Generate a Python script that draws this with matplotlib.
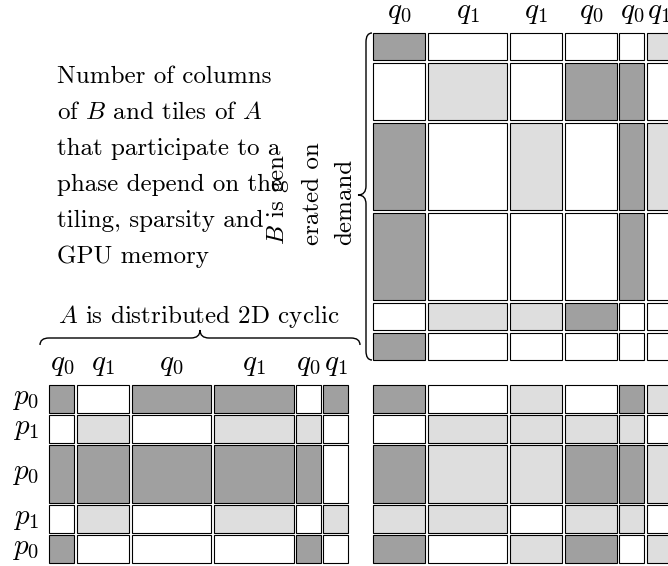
import numpy as np
import matplotlib
matplotlib.use("Agg")
import matplotlib.pyplot as plt
from matplotlib.patches import Rectangle, PathPatch
from matplotlib.path import Path

plt.rcParams['font.family'] = ['cmr10', 'DejaVu Serif']
plt.rcParams['mathtext.fontset'] = 'cm'
plt.rcParams['axes.unicode_minus'] = False

# tile structure (relative sizes) and fill of every tile
# D = owned/dark, L = light, W = empty
a_cols = [1, 2, 3, 3, 1, 1]
ac_rows = [1, 1, 2, 1, 1]
b_rows = [1, 2, 3, 3, 1, 1]
bc_cols = [2, 3, 2, 2, 1, 1]

a_cols_lbl = ['q_0', 'q_1', 'q_0', 'q_1', 'q_0', 'q_1']
b_cols_lbl = ['q_0', 'q_1', 'q_1', 'q_0', 'q_0', 'q_1']
a_rows_lbl = ['p_0', 'p_1', 'p_0', 'p_1', 'p_0']

A = ["DWDDWD",
     "WLWLLW",
     "DDDDDW",
     "WLWLWL",
     "DWWWDW"]
B = ["DWWWWL",
     "WLWDDW",
     "DWLWDL",
     "DWWWDW",
     "WLLDWW",
     "DWWWWW"]
C = ["DWLWDL",
     "WLLLLW",
     "DLLDDL",
     "LLWLLW",
     "DWLDWL"]

colors = {'D': '#a0a0a0', 'L': '#dedede', 'W': 'white'}
ux = 27.4   # px per column unit
uy = 30.0   # px per row unit
gap = 2.4
fs = 18
fs_lbl = 21


def draw_grid(ax, x0, y0, cols, rows, fills):
    xs = x0 + np.concatenate([[0], np.cumsum(cols)]) * ux
    ys = y0 + np.concatenate([[0], np.cumsum(rows)]) * uy
    for i in range(len(rows)):
        for j in range(len(cols)):
            ax.add_patch(Rectangle((xs[j], ys[i]), xs[j+1] - xs[j] - gap,
                                   ys[i+1] - ys[i] - gap,
                                   facecolor=colors[fills[i][j]],
                                   edgecolor='black', lw=0.8))
    return xs, ys


def hbrace(ax, x1, x2, y_end, y_line, y_tip, r=9):
    xm = (x1 + x2) / 2
    verts = [(x1, y_end), (x1, y_line), (x1 + r, y_line),
             (xm - r, y_line), (xm, y_line), (xm, y_tip),
             (xm, y_line), (xm + r, y_line),
             (x2 - r, y_line), (x2, y_line), (x2, y_end)]
    codes = [Path.MOVETO, Path.CURVE3, Path.CURVE3,
             Path.LINETO, Path.CURVE3, Path.CURVE3,
             Path.CURVE3, Path.CURVE3,
             Path.LINETO, Path.CURVE3, Path.CURVE3]
    ax.add_patch(PathPatch(Path(verts, codes), fc='none', ec='black', lw=1.0))


def vbrace(ax, y1, y2, x_end, x_line, x_tip, ym, r=9):
    verts = [(x_end, y1), (x_line, y1), (x_line, y1 + r),
             (x_line, ym - r), (x_line, ym), (x_tip, ym),
             (x_line, ym), (x_line, ym + r),
             (x_line, y2 - r), (x_line, y2), (x_end, y2)]
    codes = [Path.MOVETO, Path.CURVE3, Path.CURVE3,
             Path.LINETO, Path.CURVE3, Path.CURVE3,
             Path.CURVE3, Path.CURVE3,
             Path.LINETO, Path.CURVE3, Path.CURVE3]
    ax.add_patch(PathPatch(Path(verts, codes), fc='none', ec='black', lw=1.0))


fig = plt.figure(figsize=(6.68, 5.66), dpi=100)
ax = fig.add_axes([0, 0, 1, 1])
ax.set_xlim(0, 668)
ax.set_ylim(566, 0)
ax.axis('off')

# B on top right, C below it, A bottom left
bx, by = draw_grid(ax, 372.7, 32.7, bc_cols, b_rows, B)
cx, cy = draw_grid(ax, 372.7, 385.0, bc_cols, ac_rows, C)
axs, ays = draw_grid(ax, 49.3, 385.0, a_cols, ac_rows, A)

for j, lab in enumerate(b_cols_lbl):
    ax.text((bx[j] + bx[j+1] - gap) / 2, 13, '$%s$' % lab, ha='center',
            va='center', fontsize=fs_lbl)
for j, lab in enumerate(a_cols_lbl):
    ax.text((axs[j] + axs[j+1] - gap) / 2, 365, '$%s$' % lab, ha='center',
            va='center', fontsize=fs_lbl)
for i, lab in enumerate(a_rows_lbl):
    ax.text(26, (ays[i] + ays[i+1] - gap) / 2, '$%s$' % lab, ha='center',
            va='center', fontsize=fs_lbl)

hbrace(ax, 40, 360, 345, 338, 330)
ax.text(199, 323, '$A$ is distributed 2D cyclic', ha='center',
        va='baseline', fontsize=fs)

vbrace(ax, 33, 360, 372, 366, 358, 195)
for xx, s in zip([278, 313, 345], ['$B$ is gen', 'erated on', 'demand']):
    ax.text(xx, 245, s, rotation=90, ha='center', va='bottom', fontsize=fs)

para = ['Number of columns', 'of $B$ and tiles of $A$',
        'that participate to a', 'phase depend on the',
        'tiling, sparsity and', 'GPU memory']
for k, s in enumerate(para):
    ax.text(57, 83 + 36 * k, s, ha='left', va='baseline', fontsize=fs)

fig.savefig('out.png', dpi=100)
